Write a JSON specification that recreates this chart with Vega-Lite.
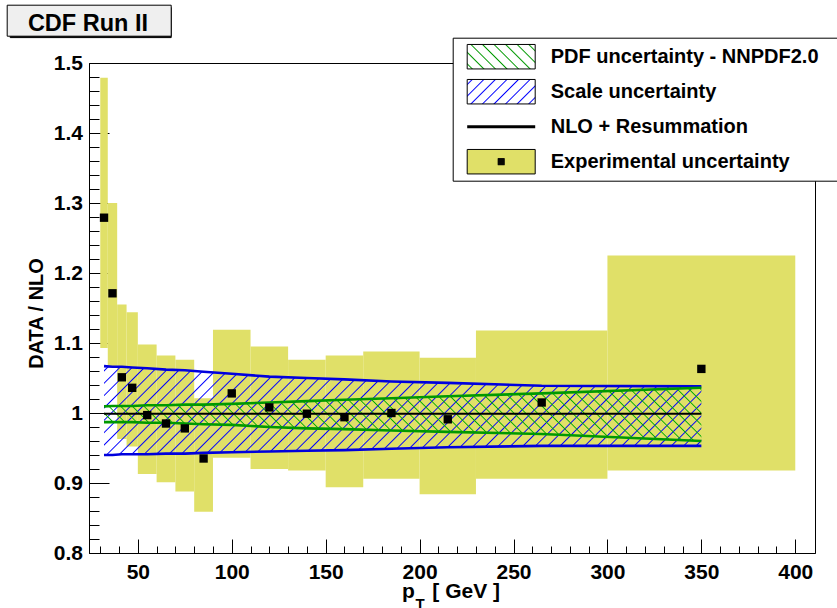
{
  "$schema": "https://vega.github.io/schema/vega-lite/v6.json",
  "width": 726,
  "height": 490,
  "autosize": "none",
  "padding": {"left": 89, "top": 63, "right": 22, "bottom": 55},
  "config": {
    "view": {"stroke": "black", "strokeWidth": 1},
    "axis": {"labelFont": "Liberation Sans", "labelFontWeight": "bold", "labelFontSize": 21, "labelColor": "black",
             "titleFont": "Liberation Sans", "titleFontWeight": "bold", "titleColor": "black",
             "tickColor": "black", "domainColor": "black", "grid": false, "labelFlush": false, "labelOverlap": false},
    "legend": {"labelFont": "Liberation Sans", "labelFontWeight": "bold", "labelColor": "black", "titleFont": "Liberation Sans", "titleFontWeight": "bold"}
  },
  "datasets": {
    "exp": [
      {"lo":30,"hi":34,"pt":32,"val":1.279,"elo":1.093,"ehi":1.479},
      {"lo":34,"hi":39,"pt":36.5,"val":1.171,"elo":1.065,"ehi":1.300},
      {"lo":39,"hi":44,"pt":41.5,"val":1.051,"elo":0.963,"ehi":1.155},
      {"lo":44,"hi":50,"pt":47,"val":1.036,"elo":0.952,"ehi":1.144},
      {"lo":50,"hi":60,"pt":55,"val":0.997,"elo":0.913,"ehi":1.098},
      {"lo":60,"hi":70,"pt":65,"val":0.985,"elo":0.901,"ehi":1.082},
      {"lo":70,"hi":80,"pt":75,"val":0.978,"elo":0.888,"ehi":1.076},
      {"lo":80,"hi":90,"pt":85,"val":0.935,"elo":0.859,"ehi":1.021},
      {"lo":90,"hi":110,"pt":100,"val":1.028,"elo":0.936,"ehi":1.119},
      {"lo":110,"hi":130,"pt":120,"val":1.008,"elo":0.920,"ehi":1.095},
      {"lo":130,"hi":150,"pt":140,"val":0.999,"elo":0.918,"ehi":1.076},
      {"lo":150,"hi":170,"pt":160,"val":0.994,"elo":0.894,"ehi":1.082},
      {"lo":170,"hi":200,"pt":185,"val":1.000,"elo":0.906,"ehi":1.088},
      {"lo":200,"hi":230,"pt":215,"val":0.991,"elo":0.884,"ehi":1.079},
      {"lo":230,"hi":300,"pt":265,"val":1.015,"elo":0.906,"ehi":1.118},
      {"lo":300,"hi":400,"pt":350,"val":1.063,"elo":0.918,"ehi":1.225}
    ],
    "theory": [
      {"pt":32,"slo":0.940,"shi":1.067,"plo":0.987,"phi":1.0095,"nlo":0.999},
      {"pt":36.5,"slo":0.940,"shi":1.066,"plo":0.987,"phi":1.010,"nlo":0.999},
      {"pt":41.5,"slo":0.941,"shi":1.066,"plo":0.987,"phi":1.010,"nlo":0.999},
      {"pt":47,"slo":0.941,"shi":1.065,"plo":0.987,"phi":1.010,"nlo":0.999},
      {"pt":55,"slo":0.941,"shi":1.064,"plo":0.986,"phi":1.011,"nlo":0.999},
      {"pt":65,"slo":0.942,"shi":1.062,"plo":0.986,"phi":1.011,"nlo":0.999},
      {"pt":75,"slo":0.942,"shi":1.061,"plo":0.985,"phi":1.012,"nlo":0.999},
      {"pt":85,"slo":0.943,"shi":1.059,"plo":0.984,"phi":1.012,"nlo":0.999},
      {"pt":100,"slo":0.944,"shi":1.056,"plo":0.983,"phi":1.013,"nlo":0.999},
      {"pt":120,"slo":0.945,"shi":1.052,"plo":0.980,"phi":1.015,"nlo":0.999},
      {"pt":140,"slo":0.946,"shi":1.050,"plo":0.978,"phi":1.017,"nlo":0.999},
      {"pt":160,"slo":0.947,"shi":1.048,"plo":0.977,"phi":1.019,"nlo":0.999},
      {"pt":185,"slo":0.949,"shi":1.045,"plo":0.975,"phi":1.021,"nlo":0.999},
      {"pt":215,"slo":0.951,"shi":1.043,"plo":0.973,"phi":1.024,"nlo":0.999},
      {"pt":265,"slo":0.953,"shi":1.039,"plo":0.970,"phi":1.028,"nlo":0.999},
      {"pt":350,"slo":0.953,"shi":1.038,"plo":0.960,"phi":1.036,"nlo":0.999}
    ],
    "entries": [
      {"entry": "PDF uncertainty - NNPDF2.0"},
      {"entry": "Scale uncertainty"},
      {"entry": "NLO + Resummation"},
      {"entry": "Experimental uncertainty"}
    ],
    "tag": [{"t": "CDF Run II"}],
    "shadow": [{"s": "shadow"}]
  },
  "resolve": {"axis": {"x": "independent", "y": "independent"}},
  "layer": [
    {
      "data": {"name": "exp"},
      "mark": {"type": "rect", "fill": "#e0e068", "opacity": 1},
      "encoding": {
        "x": {"field": "lo", "type": "quantitative", "scale": {"domain": [24, 410.5], "nice": false, "zero": false},
              "axis": {"orient": "bottom", "values": [50,100,150,200,250,300,350,400], "tickSize": -14, "labelPadding": 22,
                       "title": "p\u00a0\u00a0\u00a0[ GeV ]", "titleFontSize": 21, "titleX": 361.5, "titleY": 44, "titleAlign": "center", "titleBaseline": "alphabetic", "titleAngle": 0}},
        "x2": {"field": "hi"},
        "y": {"field": "elo", "type": "quantitative", "scale": {"domain": [0.8, 1.5], "nice": false, "zero": false},
              "axis": {"orient": "left", "values": [0.8,0.9,1,1.1,1.2,1.3,1.4,1.5], "format": "~g", "tickSize": -20, "labelPadding": 26.5,
                       "title": "DATA / NLO", "titleFontSize": 20, "titleX": -47, "titleY": 250, "titleAngle": -90, "titleAlign": "center", "titleBaseline": "alphabetic"}},
        "y2": {"field": "ehi"}
      }
    },
    {
      "data": {"name": "theory"},
      "mark": {"type": "area", "opacity": 1, "fill": {"gradient": "linear", "x1": 0, "y1": 0, "x2": 1.1239, "y2": 0.1672, "stops": [
        {"offset":0.005,"color":"#00f0"},{"offset":0.007,"color":"#00f"},{"offset":0.009,"color":"#00f0"},
        {"offset":0.023,"color":"#00f0"},{"offset":0.025,"color":"#00f"},{"offset":0.027,"color":"#00f0"},
        {"offset":0.041,"color":"#00f0"},{"offset":0.043,"color":"#00f"},{"offset":0.045,"color":"#00f0"},
        {"offset":0.059,"color":"#00f0"},{"offset":0.061,"color":"#00f"},{"offset":0.063,"color":"#00f0"},
        {"offset":0.077,"color":"#00f0"},{"offset":0.079,"color":"#00f"},{"offset":0.081,"color":"#00f0"},
        {"offset":0.095,"color":"#00f0"},{"offset":0.097,"color":"#00f"},{"offset":0.099,"color":"#00f0"},
        {"offset":0.113,"color":"#00f0"},{"offset":0.115,"color":"#00f"},{"offset":0.117,"color":"#00f0"},
        {"offset":0.131,"color":"#00f0"},{"offset":0.133,"color":"#00f"},{"offset":0.135,"color":"#00f0"},
        {"offset":0.149,"color":"#00f0"},{"offset":0.151,"color":"#00f"},{"offset":0.153,"color":"#00f0"},
        {"offset":0.167,"color":"#00f0"},{"offset":0.169,"color":"#00f"},{"offset":0.171,"color":"#00f0"},
        {"offset":0.185,"color":"#00f0"},{"offset":0.187,"color":"#00f"},{"offset":0.189,"color":"#00f0"},
        {"offset":0.203,"color":"#00f0"},{"offset":0.205,"color":"#00f"},{"offset":0.207,"color":"#00f0"},
        {"offset":0.221,"color":"#00f0"},{"offset":0.223,"color":"#00f"},{"offset":0.225,"color":"#00f0"},
        {"offset":0.239,"color":"#00f0"},{"offset":0.241,"color":"#00f"},{"offset":0.243,"color":"#00f0"},
        {"offset":0.257,"color":"#00f0"},{"offset":0.259,"color":"#00f"},{"offset":0.261,"color":"#00f0"},
        {"offset":0.275,"color":"#00f0"},{"offset":0.277,"color":"#00f"},{"offset":0.279,"color":"#00f0"},
        {"offset":0.293,"color":"#00f0"},{"offset":0.295,"color":"#00f"},{"offset":0.297,"color":"#00f0"},
        {"offset":0.311,"color":"#00f0"},{"offset":0.313,"color":"#00f"},{"offset":0.315,"color":"#00f0"},
        {"offset":0.329,"color":"#00f0"},{"offset":0.331,"color":"#00f"},{"offset":0.333,"color":"#00f0"},
        {"offset":0.347,"color":"#00f0"},{"offset":0.349,"color":"#00f"},{"offset":0.351,"color":"#00f0"},
        {"offset":0.365,"color":"#00f0"},{"offset":0.367,"color":"#00f"},{"offset":0.369,"color":"#00f0"},
        {"offset":0.383,"color":"#00f0"},{"offset":0.385,"color":"#00f"},{"offset":0.387,"color":"#00f0"},
        {"offset":0.401,"color":"#00f0"},{"offset":0.403,"color":"#00f"},{"offset":0.405,"color":"#00f0"},
        {"offset":0.419,"color":"#00f0"},{"offset":0.421,"color":"#00f"},{"offset":0.423,"color":"#00f0"},
        {"offset":0.437,"color":"#00f0"},{"offset":0.439,"color":"#00f"},{"offset":0.441,"color":"#00f0"},
        {"offset":0.455,"color":"#00f0"},{"offset":0.457,"color":"#00f"},{"offset":0.459,"color":"#00f0"},
        {"offset":0.473,"color":"#00f0"},{"offset":0.475,"color":"#00f"},{"offset":0.477,"color":"#00f0"},
        {"offset":0.491,"color":"#00f0"},{"offset":0.493,"color":"#00f"},{"offset":0.495,"color":"#00f0"},
        {"offset":0.509,"color":"#00f0"},{"offset":0.511,"color":"#00f"},{"offset":0.513,"color":"#00f0"},
        {"offset":0.527,"color":"#00f0"},{"offset":0.529,"color":"#00f"},{"offset":0.531,"color":"#00f0"},
        {"offset":0.545,"color":"#00f0"},{"offset":0.547,"color":"#00f"},{"offset":0.549,"color":"#00f0"},
        {"offset":0.563,"color":"#00f0"},{"offset":0.565,"color":"#00f"},{"offset":0.567,"color":"#00f0"},
        {"offset":0.581,"color":"#00f0"},{"offset":0.583,"color":"#00f"},{"offset":0.585,"color":"#00f0"},
        {"offset":0.599,"color":"#00f0"},{"offset":0.601,"color":"#00f"},{"offset":0.603,"color":"#00f0"},
        {"offset":0.617,"color":"#00f0"},{"offset":0.619,"color":"#00f"},{"offset":0.621,"color":"#00f0"},
        {"offset":0.635,"color":"#00f0"},{"offset":0.637,"color":"#00f"},{"offset":0.639,"color":"#00f0"},
        {"offset":0.653,"color":"#00f0"},{"offset":0.655,"color":"#00f"},{"offset":0.657,"color":"#00f0"},
        {"offset":0.671,"color":"#00f0"},{"offset":0.673,"color":"#00f"},{"offset":0.675,"color":"#00f0"},
        {"offset":0.689,"color":"#00f0"},{"offset":0.691,"color":"#00f"},{"offset":0.693,"color":"#00f0"},
        {"offset":0.707,"color":"#00f0"},{"offset":0.709,"color":"#00f"},{"offset":0.711,"color":"#00f0"},
        {"offset":0.725,"color":"#00f0"},{"offset":0.727,"color":"#00f"},{"offset":0.729,"color":"#00f0"},
        {"offset":0.743,"color":"#00f0"},{"offset":0.745,"color":"#00f"},{"offset":0.747,"color":"#00f0"},
        {"offset":0.761,"color":"#00f0"},{"offset":0.763,"color":"#00f"},{"offset":0.765,"color":"#00f0"},
        {"offset":0.779,"color":"#00f0"},{"offset":0.781,"color":"#00f"},{"offset":0.783,"color":"#00f0"},
        {"offset":0.797,"color":"#00f0"},{"offset":0.799,"color":"#00f"},{"offset":0.801,"color":"#00f0"},
        {"offset":0.815,"color":"#00f0"},{"offset":0.817,"color":"#00f"},{"offset":0.819,"color":"#00f0"},
        {"offset":0.833,"color":"#00f0"},{"offset":0.835,"color":"#00f"},{"offset":0.837,"color":"#00f0"},
        {"offset":0.851,"color":"#00f0"},{"offset":0.853,"color":"#00f"},{"offset":0.855,"color":"#00f0"},
        {"offset":0.869,"color":"#00f0"},{"offset":0.871,"color":"#00f"},{"offset":0.873,"color":"#00f0"},
        {"offset":0.887,"color":"#00f0"},{"offset":0.889,"color":"#00f"},{"offset":0.891,"color":"#00f0"},
        {"offset":0.905,"color":"#00f0"},{"offset":0.907,"color":"#00f"},{"offset":0.909,"color":"#00f0"},
        {"offset":0.923,"color":"#00f0"},{"offset":0.925,"color":"#00f"},{"offset":0.927,"color":"#00f0"},
        {"offset":0.941,"color":"#00f0"},{"offset":0.943,"color":"#00f"},{"offset":0.945,"color":"#00f0"},
        {"offset":0.959,"color":"#00f0"},{"offset":0.961,"color":"#00f"},{"offset":0.963,"color":"#00f0"},
        {"offset":0.977,"color":"#00f0"},{"offset":0.979,"color":"#00f"},{"offset":0.981,"color":"#00f0"},
        {"offset":0.995,"color":"#00f0"},{"offset":0.997,"color":"#00f"},{"offset":0.999,"color":"#00f0"}
      ]}},
      "encoding": {
        "x": {"field": "pt", "type": "quantitative", "axis": null},
        "y": {"field": "shi", "type": "quantitative", "axis": null},
        "y2": {"field": "slo"}
      }
    },
    {
      "data": {"name": "theory"},
      "mark": {"type": "area", "opacity": 1, "fill": {"gradient": "linear", "x1": 0, "y1": 1, "x2": 1.0805, "y2": 0.9037, "stops": [
        {"offset":0.005,"color":"#0a00"},{"offset":0.007,"color":"#0a0"},{"offset":0.009,"color":"#0a00"},
        {"offset":0.023,"color":"#0a00"},{"offset":0.025,"color":"#0a0"},{"offset":0.027,"color":"#0a00"},
        {"offset":0.041,"color":"#0a00"},{"offset":0.043,"color":"#0a0"},{"offset":0.045,"color":"#0a00"},
        {"offset":0.059,"color":"#0a00"},{"offset":0.061,"color":"#0a0"},{"offset":0.063,"color":"#0a00"},
        {"offset":0.077,"color":"#0a00"},{"offset":0.079,"color":"#0a0"},{"offset":0.081,"color":"#0a00"},
        {"offset":0.095,"color":"#0a00"},{"offset":0.097,"color":"#0a0"},{"offset":0.099,"color":"#0a00"},
        {"offset":0.113,"color":"#0a00"},{"offset":0.115,"color":"#0a0"},{"offset":0.117,"color":"#0a00"},
        {"offset":0.131,"color":"#0a00"},{"offset":0.133,"color":"#0a0"},{"offset":0.135,"color":"#0a00"},
        {"offset":0.149,"color":"#0a00"},{"offset":0.151,"color":"#0a0"},{"offset":0.153,"color":"#0a00"},
        {"offset":0.167,"color":"#0a00"},{"offset":0.169,"color":"#0a0"},{"offset":0.171,"color":"#0a00"},
        {"offset":0.185,"color":"#0a00"},{"offset":0.187,"color":"#0a0"},{"offset":0.189,"color":"#0a00"},
        {"offset":0.203,"color":"#0a00"},{"offset":0.205,"color":"#0a0"},{"offset":0.207,"color":"#0a00"},
        {"offset":0.221,"color":"#0a00"},{"offset":0.223,"color":"#0a0"},{"offset":0.225,"color":"#0a00"},
        {"offset":0.239,"color":"#0a00"},{"offset":0.241,"color":"#0a0"},{"offset":0.243,"color":"#0a00"},
        {"offset":0.257,"color":"#0a00"},{"offset":0.259,"color":"#0a0"},{"offset":0.261,"color":"#0a00"},
        {"offset":0.275,"color":"#0a00"},{"offset":0.277,"color":"#0a0"},{"offset":0.279,"color":"#0a00"},
        {"offset":0.293,"color":"#0a00"},{"offset":0.295,"color":"#0a0"},{"offset":0.297,"color":"#0a00"},
        {"offset":0.311,"color":"#0a00"},{"offset":0.313,"color":"#0a0"},{"offset":0.315,"color":"#0a00"},
        {"offset":0.329,"color":"#0a00"},{"offset":0.331,"color":"#0a0"},{"offset":0.333,"color":"#0a00"},
        {"offset":0.347,"color":"#0a00"},{"offset":0.349,"color":"#0a0"},{"offset":0.351,"color":"#0a00"},
        {"offset":0.365,"color":"#0a00"},{"offset":0.367,"color":"#0a0"},{"offset":0.369,"color":"#0a00"},
        {"offset":0.383,"color":"#0a00"},{"offset":0.385,"color":"#0a0"},{"offset":0.387,"color":"#0a00"},
        {"offset":0.401,"color":"#0a00"},{"offset":0.403,"color":"#0a0"},{"offset":0.405,"color":"#0a00"},
        {"offset":0.419,"color":"#0a00"},{"offset":0.421,"color":"#0a0"},{"offset":0.423,"color":"#0a00"},
        {"offset":0.437,"color":"#0a00"},{"offset":0.439,"color":"#0a0"},{"offset":0.441,"color":"#0a00"},
        {"offset":0.455,"color":"#0a00"},{"offset":0.457,"color":"#0a0"},{"offset":0.459,"color":"#0a00"},
        {"offset":0.473,"color":"#0a00"},{"offset":0.475,"color":"#0a0"},{"offset":0.477,"color":"#0a00"},
        {"offset":0.491,"color":"#0a00"},{"offset":0.493,"color":"#0a0"},{"offset":0.495,"color":"#0a00"},
        {"offset":0.509,"color":"#0a00"},{"offset":0.511,"color":"#0a0"},{"offset":0.513,"color":"#0a00"},
        {"offset":0.527,"color":"#0a00"},{"offset":0.529,"color":"#0a0"},{"offset":0.531,"color":"#0a00"},
        {"offset":0.545,"color":"#0a00"},{"offset":0.547,"color":"#0a0"},{"offset":0.549,"color":"#0a00"},
        {"offset":0.563,"color":"#0a00"},{"offset":0.565,"color":"#0a0"},{"offset":0.567,"color":"#0a00"},
        {"offset":0.581,"color":"#0a00"},{"offset":0.583,"color":"#0a0"},{"offset":0.585,"color":"#0a00"},
        {"offset":0.599,"color":"#0a00"},{"offset":0.601,"color":"#0a0"},{"offset":0.603,"color":"#0a00"},
        {"offset":0.617,"color":"#0a00"},{"offset":0.619,"color":"#0a0"},{"offset":0.621,"color":"#0a00"},
        {"offset":0.635,"color":"#0a00"},{"offset":0.637,"color":"#0a0"},{"offset":0.639,"color":"#0a00"},
        {"offset":0.653,"color":"#0a00"},{"offset":0.655,"color":"#0a0"},{"offset":0.657,"color":"#0a00"},
        {"offset":0.671,"color":"#0a00"},{"offset":0.673,"color":"#0a0"},{"offset":0.675,"color":"#0a00"},
        {"offset":0.689,"color":"#0a00"},{"offset":0.691,"color":"#0a0"},{"offset":0.693,"color":"#0a00"},
        {"offset":0.707,"color":"#0a00"},{"offset":0.709,"color":"#0a0"},{"offset":0.711,"color":"#0a00"},
        {"offset":0.725,"color":"#0a00"},{"offset":0.727,"color":"#0a0"},{"offset":0.729,"color":"#0a00"},
        {"offset":0.743,"color":"#0a00"},{"offset":0.745,"color":"#0a0"},{"offset":0.747,"color":"#0a00"},
        {"offset":0.761,"color":"#0a00"},{"offset":0.763,"color":"#0a0"},{"offset":0.765,"color":"#0a00"},
        {"offset":0.779,"color":"#0a00"},{"offset":0.781,"color":"#0a0"},{"offset":0.783,"color":"#0a00"},
        {"offset":0.797,"color":"#0a00"},{"offset":0.799,"color":"#0a0"},{"offset":0.801,"color":"#0a00"},
        {"offset":0.815,"color":"#0a00"},{"offset":0.817,"color":"#0a0"},{"offset":0.819,"color":"#0a00"},
        {"offset":0.833,"color":"#0a00"},{"offset":0.835,"color":"#0a0"},{"offset":0.837,"color":"#0a00"},
        {"offset":0.851,"color":"#0a00"},{"offset":0.853,"color":"#0a0"},{"offset":0.855,"color":"#0a00"},
        {"offset":0.869,"color":"#0a00"},{"offset":0.871,"color":"#0a0"},{"offset":0.873,"color":"#0a00"},
        {"offset":0.887,"color":"#0a00"},{"offset":0.889,"color":"#0a0"},{"offset":0.891,"color":"#0a00"},
        {"offset":0.905,"color":"#0a00"},{"offset":0.907,"color":"#0a0"},{"offset":0.909,"color":"#0a00"},
        {"offset":0.923,"color":"#0a00"},{"offset":0.925,"color":"#0a0"},{"offset":0.927,"color":"#0a00"},
        {"offset":0.941,"color":"#0a00"},{"offset":0.943,"color":"#0a0"},{"offset":0.945,"color":"#0a00"},
        {"offset":0.959,"color":"#0a00"},{"offset":0.961,"color":"#0a0"},{"offset":0.963,"color":"#0a00"},
        {"offset":0.977,"color":"#0a00"},{"offset":0.979,"color":"#0a0"},{"offset":0.981,"color":"#0a00"},
        {"offset":0.995,"color":"#0a00"},{"offset":0.997,"color":"#0a0"},{"offset":0.999,"color":"#0a00"}
      ]}},
      "encoding": {
        "x": {"field": "pt", "type": "quantitative", "axis": null},
        "y": {"field": "phi", "type": "quantitative", "axis": null},
        "y2": {"field": "plo"}
      }
    },
    {
      "data": {"name": "theory"},
      "mark": {"type": "line", "color": "#0000dd", "strokeWidth": 2.6},
      "encoding": {"x": {"field": "pt", "type": "quantitative", "axis": null}, "y": {"field": "shi", "type": "quantitative", "axis": null}}
    },
    {
      "data": {"name": "theory"},
      "mark": {"type": "line", "color": "#0000dd", "strokeWidth": 2.6},
      "encoding": {"x": {"field": "pt", "type": "quantitative", "axis": null}, "y": {"field": "slo", "type": "quantitative", "axis": null}}
    },
    {
      "data": {"name": "theory"},
      "mark": {"type": "line", "color": "#009900", "strokeWidth": 2.6},
      "encoding": {"x": {"field": "pt", "type": "quantitative", "axis": null}, "y": {"field": "phi", "type": "quantitative", "axis": null}}
    },
    {
      "data": {"name": "theory"},
      "mark": {"type": "line", "color": "#009900", "strokeWidth": 2.6},
      "encoding": {"x": {"field": "pt", "type": "quantitative", "axis": null}, "y": {"field": "plo", "type": "quantitative", "axis": null}}
    },
    {
      "data": {"name": "theory"},
      "mark": {"type": "line", "color": "#000000", "strokeWidth": 2},
      "encoding": {"x": {"field": "pt", "type": "quantitative", "axis": null}, "y": {"field": "nlo", "type": "quantitative", "axis": null}}
    },
    {
      "data": {"name": "exp"},
      "mark": {"type": "point", "shape": "square", "filled": true, "size": 70, "color": "#000000", "opacity": 1},
      "encoding": {
        "x": {"field": "pt", "type": "quantitative",
              "axis": {"orient": "bottom", "values": [30,40,60,70,80,90,110,120,130,140,160,170,180,190,210,220,230,240,260,270,280,290,310,320,330,340,360,370,380,390],
                       "tickSize": -7, "labels": false, "domain": false, "title": "T", "titleFontSize": 15, "titleX": 326, "titleY": 55, "titleAlign": "left", "titleBaseline": "alphabetic", "titleAngle": 0}},
        "y": {"field": "val", "type": "quantitative",
              "axis": {"orient": "left", "values": [0.82,0.84,0.86,0.88,0.92,0.94,0.96,0.98,1.02,1.04,1.06,1.08,1.12,1.14,1.16,1.18,1.22,1.24,1.26,1.28,1.32,1.34,1.36,1.38,1.42,1.44,1.46,1.48],
                       "tickSize": -10, "labels": false, "domain": false, "title": null}}
      }
    },
    {
      "data": {"name": "entries"},
      "mark": {"type": "point", "opacity": 0, "filled": true, "stroke": "black"},
      "encoding": {
        "fill": {"field": "entry", "type": "nominal",
          "scale": {"domain": ["PDF uncertainty - NNPDF2.0", "Scale uncertainty", "NLO + Resummation", "Experimental uncertainty"],
                    "range": [
                      {"expr": "{gradient: 'linear', x1: 0, y1: 1, x2: 1.204, y2: 0.5665, stops: [{offset: 0.04, color: '#fff'}, {offset: 0.055, color: '#090'}, {offset: 0.07, color: '#fff'}, {offset: 0.165, color: '#fff'}, {offset: 0.18, color: '#090'}, {offset: 0.195, color: '#fff'}, {offset: 0.29, color: '#fff'}, {offset: 0.305, color: '#090'}, {offset: 0.32, color: '#fff'}, {offset: 0.415, color: '#fff'}, {offset: 0.43, color: '#090'}, {offset: 0.445, color: '#fff'}, {offset: 0.54, color: '#fff'}, {offset: 0.555, color: '#090'}, {offset: 0.57, color: '#fff'}, {offset: 0.665, color: '#fff'}, {offset: 0.68, color: '#090'}, {offset: 0.695, color: '#fff'}, {offset: 0.79, color: '#fff'}, {offset: 0.805, color: '#090'}, {offset: 0.82, color: '#fff'}, {offset: 0.915, color: '#fff'}, {offset: 0.93, color: '#090'}, {offset: 0.945, color: '#fff'}]}"},
                      {"expr": "{gradient: 'linear', x1: 0, y1: 0, x2: 1.204, y2: 0.4335, stops: [{offset: 0.04, color: '#fff'}, {offset: 0.055, color: '#00f'}, {offset: 0.07, color: '#fff'}, {offset: 0.165, color: '#fff'}, {offset: 0.18, color: '#00f'}, {offset: 0.195, color: '#fff'}, {offset: 0.29, color: '#fff'}, {offset: 0.305, color: '#00f'}, {offset: 0.32, color: '#fff'}, {offset: 0.415, color: '#fff'}, {offset: 0.43, color: '#00f'}, {offset: 0.445, color: '#fff'}, {offset: 0.54, color: '#fff'}, {offset: 0.555, color: '#00f'}, {offset: 0.57, color: '#fff'}, {offset: 0.665, color: '#fff'}, {offset: 0.68, color: '#00f'}, {offset: 0.695, color: '#fff'}, {offset: 0.79, color: '#fff'}, {offset: 0.805, color: '#00f'}, {offset: 0.82, color: '#fff'}, {offset: 0.915, color: '#fff'}, {offset: 0.93, color: '#00f'}, {offset: 0.945, color: '#fff'}]}"},
                      "#000000",
                      "#e0e068"
                    ]},
          "legend": {"orient": "none", "legendX": 363.7, "legendY": -25.3, "title": "WWW", "titleOrient": "right", "titleColor": "rgba(0,0,0,0)", "titlePadding": 0, "titleFontSize": 20,
                     "fillColor": "white", "strokeColor": "black", "padding": 1.5, "symbolOffset": 11.5, "symbolSize": 4624, "symbolStrokeColor": "black", "symbolFillColor": "white", "symbolOpacity": 1,
                     "labelOffset": 14, "labelFontSize": 20, "labelLimit": 600, "labelBaseline": "middle", "clipHeight": 35, "rowPadding": 0}
        },
        "shape": {"field": "entry", "type": "nominal",
          "scale": {"domain": ["PDF uncertainty - NNPDF2.0", "Scale uncertainty", "NLO + Resummation", "Experimental uncertainty"],
                    "range": ["M-1,-0.36H1V0.36H-1Z", "M-1,-0.36H1V0.36H-1Z", "M-1,0H1",
                              "M-1,-0.36H1V0.36H-1ZM-0.1,-0.09H0.1M-0.1,-0.075H0.1M-0.1,-0.06H0.1M-0.1,-0.045H0.1M-0.1,-0.03H0.1M-0.1,-0.015H0.1M-0.1,0H0.1M-0.1,0.015H0.1M-0.1,0.03H0.1M-0.1,0.045H0.1M-0.1,0.06H0.1M-0.1,0.075H0.1M-0.1,0.09H0.1"]},
          "legend": {"orient": "none", "legendX": 363.7, "legendY": -25.3, "title": "WWW", "titleOrient": "right", "titleColor": "rgba(0,0,0,0)", "titlePadding": 0, "titleFontSize": 20,
                     "fillColor": "white", "strokeColor": "black", "padding": 1.5, "symbolOffset": 11.5, "symbolSize": 4624, "symbolStrokeColor": "black", "symbolFillColor": "white", "symbolOpacity": 1,
                     "labelOffset": 14, "labelFontSize": 20, "labelLimit": 600, "labelBaseline": "middle", "clipHeight": 35, "rowPadding": 0}
        },
        "strokeWidth": {"field": "entry", "type": "ordinal",
          "scale": {"type": "ordinal", "domain": ["PDF uncertainty - NNPDF2.0", "Scale uncertainty", "NLO + Resummation", "Experimental uncertainty"], "range": [1, 1, 3, 1]},
          "legend": {"orient": "none", "legendX": 363.7, "legendY": -25.3, "title": "WWW", "titleOrient": "right", "titleColor": "rgba(0,0,0,0)", "titlePadding": 0, "titleFontSize": 20,
                     "fillColor": "white", "strokeColor": "black", "padding": 1.5, "symbolOffset": 11.5, "symbolSize": 4624, "symbolStrokeColor": "black", "symbolFillColor": "white", "symbolOpacity": 1,
                     "labelOffset": 14, "labelFontSize": 20, "labelLimit": 600, "labelBaseline": "middle", "clipHeight": 35, "rowPadding": 0}
        }
      }
    },
    {
      "data": {"name": "shadow"},
      "mark": {"type": "point", "opacity": 0},
      "encoding": {
        "stroke": {"field": "s", "type": "nominal", "scale": {"domain": ["shadow"], "range": ["black"]},
          "legend": {"orient": "none", "legendX": -79.3, "legendY": -55.9, "title": null,
                     "fillColor": "black", "strokeColor": "black", "padding": 2, "symbolType": "square", "symbolSize": 24025, "symbolOpacity": 0, "symbolOffset": 0,
                     "labelOffset": 0, "labelExpr": "''", "labelFontSize": 10, "clipHeight": 25.3, "rowPadding": 0}}
      }
    },
    {
      "data": {"name": "tag"},
      "mark": {"type": "point", "opacity": 0},
      "encoding": {
        "strokeDash": {"field": "t", "type": "nominal", "scale": {"domain": ["CDF Run II", "pad"], "range": [[1, 0], [1, 0]]},
          "legend": {"orient": "none", "legendX": -82.3, "legendY": -58.3, "title": "\u00a0", "titleOrient": "top", "titleColor": "rgba(0,0,0,0)", "titleFontSize": 6, "titlePadding": 2,
                     "fillColor": "#efefef", "strokeColor": "black", "padding": 0, "symbolType": "square", "symbolSize": 100, "symbolOpacity": 0, "symbolOffset": 0,
                     "columns": 2, "columnPadding": 0,
                     "labelOffset": -2.3, "labelFontSize": 23.5, "labelColor": "black", "labelBaseline": "middle", "labelExpr": "datum.label === 'CDF Run II' ? datum.label : ''",
                     "clipHeight": 21.3, "rowPadding": 0}}
      }
    }
  ]
}
